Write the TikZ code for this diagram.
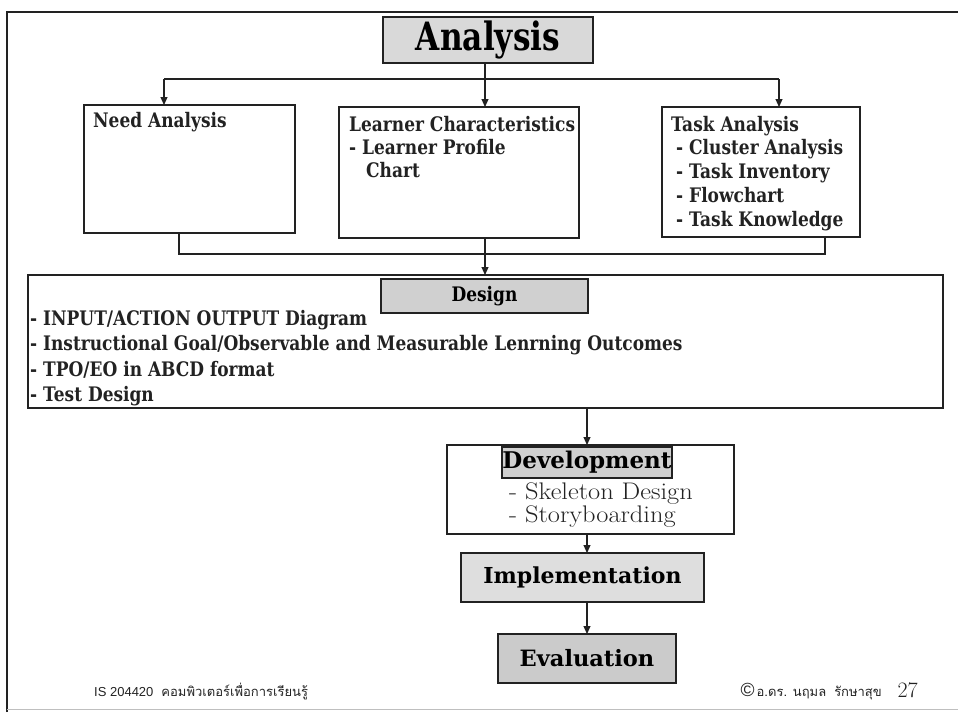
\documentclass[tikz,border=0pt]{standalone}
\usepackage{fontspec}
\usetikzlibrary{arrows.meta}
\setmainfont{DejaVu Serif}
\newfontfamily\slab[FakeStretch=0.85]{DejaVu Serif}
\newfontfamily\bigslab[FakeStretch=0.8]{DejaVu Serif}
\newfontfamily\wideslab{DejaVu Serif}
\newfontfamily\lmr[FakeStretch=1.1]{Latin Modern Roman}
\newfontfamily\numfont{Latin Modern Roman}
\newfontfamily\sansf{Liberation Sans}
\newfontfamily\thaifont[Script=Thai]{Loma}
\definecolor{ink}{HTML}{222222}
\definecolor{fillA}{HTML}{D9D9D9}
\definecolor{fillD}{HTML}{D0D0D0}
\definecolor{fillI}{HTML}{DEDEDE}
\definecolor{fillE}{HTML}{CBCBCB}
\tikzset{
  box/.style={draw=ink, line width=1.2pt, inner sep=0pt, outer sep=0pt},
  ln/.style={draw=ink, line width=1.1pt},
  arr/.style={draw=ink, line width=1.1pt, -{Triangle[length=8pt,width=7pt]}},
  txt/.style={anchor=base west, inner sep=0pt, text=ink},
  boxfont/.style={font=\slab\bfseries\fontsize{20}{22}\selectfont},
}
\begin{document}
\begin{tikzpicture}[x=1pt,y=-1pt]
\useasboundingbox (0,0) rectangle (958,720);
% page frame
\draw[ink, line width=2.5pt] (7,712) -- (7,12) -- (958,12);
\draw[gray!50, line width=1pt] (7,709) -- (958,709);

% boxes
\node[box, fill=fillA, minimum width=210, minimum height=46] (analysis) at (488,40)
  {\bigslab\bfseries\fontsize{39}{39}\selectfont Analysis};
\node[box, minimum width=211, minimum height=128] (need) at (189.5,169) {};
\node[box, minimum width=240, minimum height=131] (learner) at (459,172.5) {};
\node[box, minimum width=198, minimum height=130] (task) at (761,172) {};
\node[box, minimum width=915, minimum height=133] (design) at (485.5,341.5) {};
\node[box, fill=fillD, minimum width=207, minimum height=34, boxfont] (designlbl) at (484.5,296)
  {Design};
\node[box, minimum width=287, minimum height=89] (dev) at (590.5,489.5) {};
\node[box, fill=fillD, minimum width=170, minimum height=31] (devlbl) at (587,462.5)
  {\wideslab\bfseries\fontsize{23}{23}\selectfont Development};
\node[box, fill=fillI, minimum width=243, minimum height=49] (impl) at (582.5,577.5)
  {\wideslab\bfseries\fontsize{22}{22}\selectfont Implementation};
\node[box, fill=fillE, minimum width=178, minimum height=49] (eval) at (587,658.5)
  {\wideslab\bfseries\fontsize{22.5}{22.5}\selectfont Evaluation};

% box texts
\begin{scope}[every node/.append style={txt, boxfont}]
\node (t1) at (93,127) {Need Analysis};
\node (t2) at (349,131) {Learner Characteristics};
\node (t3) at (349,154) {- Learner Profile};
\node (t4) at (366,177) {Chart};
\node (t5) at (671,131) {Task Analysis};
\node (t6) at (676,154) {- Cluster Analysis};
\node (t7) at (676,178) {- Task Inventory};
\node (t8) at (676,202) {- Flowchart};
\node (t9) at (676,226) {- Task Knowledge};
\node (d1) at (30,325) {- INPUT/ACTION OUTPUT Diagram};
\node (d2) at (30,350.5) {- Instructional Goal/Observable and Measurable Lenrning Outcomes};
\node (d3) at (30,376) {- TPO/EO in ABCD format};
\node (d4) at (30,401) {- Test Design};
\end{scope}
\node[txt, font=\lmr\fontsize{24}{24}\selectfont] (s1) at (509,499) {- Skeleton Design};
\node[txt, font=\lmr\fontsize{24}{24}\selectfont] (s2) at (509,522) {- Storyboarding};

% connectors
\coordinate (sA) at (485,79);
\coordinate (sL) at (164,79);
\coordinate (sR) at (779,79);
\draw[ln] (sL) -- (sR);
\draw[arr] (analysis.south -| sA) -- (learner.north -| sA);
\draw[arr] (sL) -- (need.north -| sL);
\draw[arr] (sR) -- (task.north -| sR);
\coordinate (jL) at (179,254);
\coordinate (jR) at (825,254);
\draw[ln] (need.south -| jL) -- (jL) -- (jR) -- (task.south -| jR);
\draw[arr] (learner.south -| sA) -- (design.north -| sA);
\coordinate (vx) at (587,0);
\draw[arr] (design.south -| vx) -- (dev.north -| vx);
\draw[arr] (dev.south -| vx) -- (impl.north -| vx);
\draw[arr] (impl.south -| vx) -- (eval.north -| vx);

% footer
\node[txt, font=\sansf\fontsize{13}{13}\selectfont] (f1) at (94,696)
  {IS 204420\hspace{8pt}{\thaifont คอมพิวเตอร์เพื่อการเรียนรู้}};
\node[anchor=base east, inner sep=0pt, text=ink, font=\numfont\fontsize{22}{22}\selectfont] (f3) at (918,697) {27};
\node[anchor=base east, inner sep=0pt, text=ink, font=\sansf\fontsize{13}{13}\selectfont] (f2) at (882,696)
  {{\fontsize{19}{19}\selectfont ©}\hspace{2pt}{\thaifont อ.ดร. นฤมล\hspace{8pt}รักษาสุข}};
\end{tikzpicture}
\end{document}
